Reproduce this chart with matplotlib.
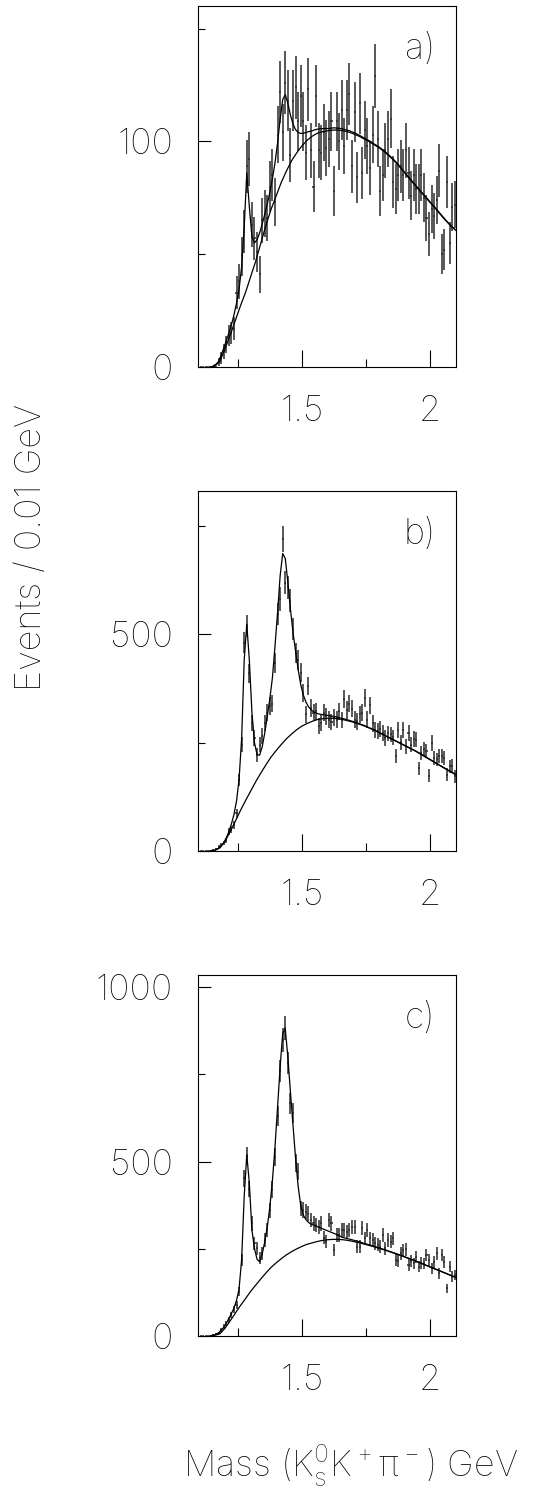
import numpy as np
import matplotlib
matplotlib.use("Agg")
import matplotlib.pyplot as plt
from matplotlib import font_manager

# bin centres, 0.01 GeV bins
mass = [round(1.105 + 0.01 * i, 3) for i in range(100)]

counts_a = [0, 0, 0, 0, 0, 0, 0, 2, 4, 7,
            10, 14, 15, 17, 33, 38, 49, 60, 89, 92,
            63, 57, 51, 41, 65, 68, 66, 80, 85, 73,
            103, 122, 104, 126, 118, 94, 118, 124, 109, 120,
            109, 95, 123, 96, 80, 120, 96, 95, 104, 97,
            101, 109, 78, 109, 100, 114, 98, 114, 121, 89,
            113, 84, 117, 86, 105, 98, 88, 103, 129, 101,
            78, 85, 96, 101, 110, 82, 79, 85, 89, 85,
            96, 86, 76, 85, 79, 79, 85, 75, 66, 59,
            70, 67, 74, 87, 50, 52, 82, 55, 71, 72]

counts_b = [0, 0, 0, 0, 1, 2, 4, 10, 14, 18,
            25, 45, 49, 60, 87, 164, 245, 480, 519, 410,
            295, 261, 222, 245, 265, 295, 319, 334, 340, 434,
            546, 581, 720, 619, 608, 577, 512, 457, 440, 411,
            365, 315, 380, 330, 319, 322, 288, 295, 319, 311,
            303, 297, 307, 303, 322, 302, 350, 325, 340, 328,
            303, 299, 315, 319, 353, 303, 336, 294, 280, 276,
            282, 272, 261, 271, 269, 262, 220, 280, 251, 280,
            241, 272, 245, 258, 257, 191, 226, 235, 230, 174,
            249, 214, 211, 218, 218, 214, 176, 195, 197, 172]

counts_c = [0, 0, 0, 0, 1, 3, 5, 8, 17, 27,
            36, 46, 60, 75, 89, 127, 218, 452, 517, 421,
            323, 266, 251, 223, 237, 275, 304, 360, 420, 514,
            631, 760, 849, 884, 782, 667, 640, 495, 471, 366,
            361, 356, 350, 333, 323, 318, 313, 323, 282, 270,
            333, 323, 247, 290, 290, 304, 304, 299, 304, 312,
            313, 256, 256, 309, 280, 304, 280, 275, 266, 261,
            256, 290, 251, 275, 270, 280, 218, 216, 237, 247,
            248, 204, 215, 208, 227, 199, 210, 208, 232, 218,
            194, 213, 237, 180, 232, 213, 137, 199, 170, 175]

# error bar scale (background subtracted -> bigger than sqrt N)
err_scale = {"a": 1.25, "b": 1.1, "c": 1.15}

# fit curves
fit_x = [round(1.155 + 0.01 * i, 3) for i in range(95)]
fit_a = [0.6, 1.2, 2.4, 5.2, 8.2, 11.5, 15, 18.6, 23, 28.3,
         34.4, 44.5, 62, 86, 71, 57.7, 55, 56.4, 59.4, 63.3,
         67.7, 72.3, 77.5, 83.5, 90.5, 99.4, 109.8, 118.6, 120.7, 116.9,
         111.7, 107.7, 105.2, 104, 103.5, 103.6, 103.9, 104.3, 104.5, 104.9,
         105.3, 105.5, 105.6, 105.7, 105.7, 105.7, 105.9, 106.0, 105.9, 105.8,
         105.6, 105.3, 105.0, 104.7, 104.2, 103.8, 103.2, 102.6, 102.0, 101.3,
         100.7, 100.1, 99.3, 98.6, 97.9, 97.1, 96.2, 95.3, 94.3, 93.3,
         92.2, 91.0, 89.7, 88.4, 87.0, 85.6, 84.3, 82.9, 81.6, 80.2,
         78.9, 77.6, 76.3, 75.0, 73.7, 72.4, 71.1, 69.8, 68.5, 67.1,
         65.8, 64.5, 63.3, 62.1, 61.1]
fit_b = [1, 3, 6, 12, 19, 30, 44, 62, 84, 115,
         165, 260, 440, 523, 440, 320, 250, 222, 221, 240,
         272, 311, 352, 400, 473, 550, 635, 686, 674, 620,
         558, 504, 461, 419, 384, 360, 344, 333, 326, 321,
         318, 316, 315, 314, 313, 312, 311, 310, 309, 307,
         306, 304.5, 302.8, 301, 299.3, 297.3, 295.2, 293.1, 291, 288.7,
         286.1, 283.5, 281, 278.1, 275.1, 272, 269, 266, 263, 260,
         257, 254, 251, 248, 245, 242, 239, 236, 233, 230,
         226.5, 223, 219.5, 216, 212.5, 209, 205.5, 202, 198.5, 195,
         191.5, 188, 184.5, 181, 178]
fit_c = [2, 5, 9, 16, 25, 36, 50, 64, 80, 102,
         135, 220, 400, 520, 438, 304, 251, 220, 213, 235,
         270, 313, 371, 447, 543, 657, 772, 868, 880, 800,
         700, 605, 510, 430, 375, 347, 334, 326, 321, 318,
         315, 312, 309, 306, 303, 300, 297, 294, 291, 288,
         283, 281.5, 279.5, 277.8, 275.8, 273.8, 271.8, 269.7, 267.4, 265.1,
         262.9, 260.7, 258.5, 256.3, 253.9, 251.6, 249.2, 246.8, 244.3, 241.8,
         239.2, 236.7, 234.1, 231.4, 228.7, 225.8, 223.1, 220.3, 217.5, 214.6,
         211.6, 208.6, 205.5, 202.5, 199.5, 196.5, 193.5, 190.5, 187.5, 184.5,
         181.5, 178.5, 175.4, 172.4, 169.4]

bg_x = [round(1.14 + 0.02 * i, 2) for i in range(49)]
bg_a = [0, 0.3, 2.5, 8, 14, 20.5, 27, 33, 40, 47,
        55, 63, 70, 76, 82, 87, 91.5, 95, 98, 100.5,
        102.3, 103.6, 104.3, 104.7, 105, 105, 104.7, 104.2, 103.4, 102.4,
        101.2, 100, 98.6, 97.2, 95.5, 93.5, 91.3, 88.8, 86, 83.3,
        80.6, 78, 75.4, 72.8, 70.2, 67.5, 64.9, 62.5, 60.5]
bg_b = [0, 1.5, 7, 22, 44, 68, 93, 116, 138, 160,
        180, 199, 217, 232, 246, 259, 270, 280, 288, 294,
        299, 303, 305, 306, 306, 305, 303, 300, 297, 293,
        289, 284, 279, 273, 267, 261, 255, 249, 243, 237,
        231, 224, 217, 210, 203, 196, 189, 182, 176]
bg_c = [0, 2, 6, 22, 43, 65, 87, 107, 128, 146,
        164, 181, 197, 210, 222, 233, 242, 250, 257, 263,
        267, 271, 274, 276, 277, 277, 276, 274, 271, 268,
        264, 260, 256, 251.5, 247, 242, 237, 232, 226.5, 221,
        215.5, 209.5, 203.5, 197.5, 191.5, 185.5, 179.5, 173.5, 167.5]

panels = [
    ("a", counts_a, fit_a, bg_a, 160, [0, 100], [50, 150]),
    ("b", counts_b, fit_b, bg_b, 830, [0, 500], [250, 750]),
    ("c", counts_c, fit_c, bg_c, 1035, [0, 500, 1000], [250, 750]),
]


def thin_font():
    wanted = ["Roboto", "Lato", "Inter", "Open Sans", "Noto Sans", "DejaVu Sans"]
    best = None
    for f in font_manager.fontManager.ttflist:
        if f.name not in wanted or f.style != "normal":
            continue
        w = f.weight
        if isinstance(w, str):
            w = font_manager.weight_dict.get(w, 400)
        key = (w, wanted.index(f.name))
        if best is None or key < best[0]:
            best = (key, f.name, w)
    if best is None:
        return "DejaVu Sans", 400
    return best[1], best[2]


fname, fweight = thin_font()
plt.rcParams["font.family"] = [fname, "DejaVu Sans"]
plt.rcParams["font.weight"] = fweight
plt.rcParams["mathtext.default"] = "regular"
FS = 26

W, H = 536, 1496
fig = plt.figure(figsize=(W / 100, H / 100), dpi=100)

# axes boxes in pixels: (top, bottom)
boxes = [(6, 367), (491, 851), (975, 1336)]
left_px, right_px = 198, 456

for (tag, counts, fit, bg, ymax, ymaj, ymin), (top, bot) in zip(panels, boxes):
    ax = fig.add_axes([left_px / W, 1 - bot / H, (right_px - left_px) / W, (bot - top) / H])
    y = np.array(counts, dtype=float)
    ax.errorbar(mass, y, yerr=err_scale[tag] * np.sqrt(y), xerr=0.004,
                fmt="none", ecolor="#2a2a2a", elinewidth=1.1, capsize=0)
    ax.plot(fit_x, fit, color="black", lw=0.9)
    ax.plot(bg_x, bg, color="black", lw=0.9)

    ax.set_xlim(1.095, 2.10)
    ax.set_ylim(0, ymax)
    ax.set_xticks([1.5, 2.0])
    ax.set_xticklabels(["1.5", "2"])
    ax.set_xticks([1.25, 1.75], minor=True)
    ax.set_yticks(ymaj)
    ax.set_yticklabels([str(v) for v in ymaj])
    ax.set_yticks(ymin, minor=True)
    ax.tick_params(which="both", direction="in", top=False, right=False,
                   width=0.8, labelsize=FS)
    ax.xaxis.set_tick_params(which="major", length=12, pad=20)
    ax.xaxis.set_tick_params(which="minor", length=6)
    ax.yaxis.set_tick_params(which="major", length=9.5, pad=18)
    ax.yaxis.set_tick_params(which="minor", length=5)
    for s in ax.spines.values():
        s.set_linewidth(0.8)
    ax.text(0.86, 0.88, tag + ")", transform=ax.transAxes, ha="center",
            va="center", fontsize=FS)

fig.text(32 / W, 1 - 547 / H, "Events / 0.01 GeV", rotation=90,
         ha="center", va="center", fontsize=FS)
fig.text(351 / W, 1 - 1477 / H, r"Mass ($K^0_sK^+\pi^-$) GeV",
         ha="center", va="baseline", fontsize=FS)

fig.savefig("out.png", dpi=100)
